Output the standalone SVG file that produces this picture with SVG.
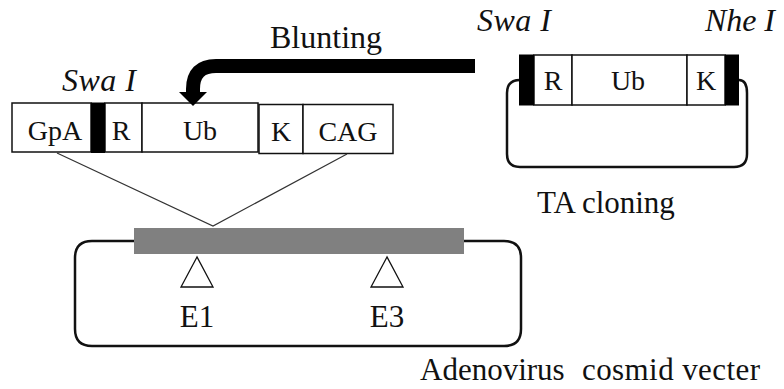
<svg xmlns="http://www.w3.org/2000/svg" width="784" height="389" viewBox="0 0 784 389">
  <style>
    text { font-family: "Liberation Serif", "Times New Roman", serif; fill: #111; }
    .lbl { font-size: 31px; }
    .it { font-size: 32px; font-style: italic; }
    .bx { font-size: 28px; text-anchor: middle; }
    .seg { fill: #fff; stroke: #111; stroke-width: 1.5; }
    .cut { fill: #000; }
    .loop { fill: none; stroke: #111; stroke-width: 2.5; }
    .thin { fill: none; stroke: #333; stroke-width: 1.2; }
  </style>

  <rect width="784" height="389" fill="#fff"/>

  <!-- Expression cassette inserted into the cosmid -->
  <g id="cassette">
    <rect class="seg" x="12" y="103" width="79" height="49"/>
    <rect class="seg" x="105" y="103" width="37" height="49"/>
    <rect class="seg" x="142" y="103" width="116" height="49"/>
    <rect class="seg" x="259" y="104.5" width="44" height="49"/>
    <rect class="seg" x="303" y="104.5" width="90" height="49"/>
    <rect class="cut" x="91" y="102.5" width="14" height="50.5"/>
    <text class="bx" x="55" y="140">GpA</text>
    <text class="bx" x="121" y="140">R</text>
    <text class="bx" x="200" y="140">Ub</text>
    <text class="bx" x="281" y="141">K</text>
    <text class="bx" x="348" y="141">CAG</text>
  </g>

  <g id="swa-left">
    <text class="it" x="62" y="91" textLength="74">Swa I</text>
  </g>

  <!-- TA cloning plasmid -->
  <g id="ta-plasmid">
    <path class="loop" d="M520,80 Q507,80 507,93 V154 Q507,167 520,167 H734 Q747,167 747,154 V93 Q747,80 739,80"/>
    <rect class="seg" x="534" y="55" width="38" height="50"/>
    <rect class="seg" x="572" y="55" width="115" height="50"/>
    <rect class="seg" x="687" y="55" width="38" height="50"/>
    <rect class="cut" x="519" y="54.5" width="15" height="51"/>
    <rect class="cut" x="725" y="54.5" width="14" height="51"/>
    <text class="bx" x="553" y="90">R</text>
    <text class="bx" x="628" y="90">Ub</text>
    <text class="bx" x="706" y="90">K</text>
  </g>

  <g id="swa-right">
    <text class="it" x="477" y="31" textLength="74">Swa I</text>
  </g>
  <g id="nhe">
    <text class="it" x="705" y="31" textLength="70">Nhe I</text>
  </g>
  <g id="ta-label">
    <text class="lbl" x="537" y="213">TA cloning</text>
  </g>

  <!-- Adenovirus cosmid vector -->
  <g id="cosmid">
    <path class="loop" d="M134,241 H92 Q75,241 75,258 V329 Q75,346 92,346 H504 Q521,346 521,329 V258 Q521,241 504,241 H464"/>
    <rect x="134" y="228" width="330" height="26" fill="#808080"/>
    <polygon points="197,257 181,287 213,287" fill="#fff" stroke="#111" stroke-width="1.3"/>
    <polygon points="387,257 371,287 403,287" fill="#fff" stroke="#111" stroke-width="1.3"/>
    <text class="lbl" x="197" y="327" text-anchor="middle">E1</text>
    <text class="lbl" x="387" y="327" text-anchor="middle">E3</text>
  </g>
  <g id="cosmid-label">
    <text class="lbl" y="380"><tspan x="420">Adenovirus</tspan><tspan x="582" textLength="178">cosmid vecter</tspan></text>
  </g>

  <g id="connectors">
    <!-- insertion site -->
    <polyline class="thin" points="57,153 213,226 347,154"/>
    <!-- blunting arrow -->
    <path d="M475,66 H216 Q193,66 193,89 V93" fill="none" stroke="#000" stroke-width="14"/>
    <polygon points="179,92 207,92 193,106" fill="#000"/>
  </g>
  <g id="blunting-label">
    <text x="270" y="48" font-size="32">Blunting</text>
  </g>
</svg>
